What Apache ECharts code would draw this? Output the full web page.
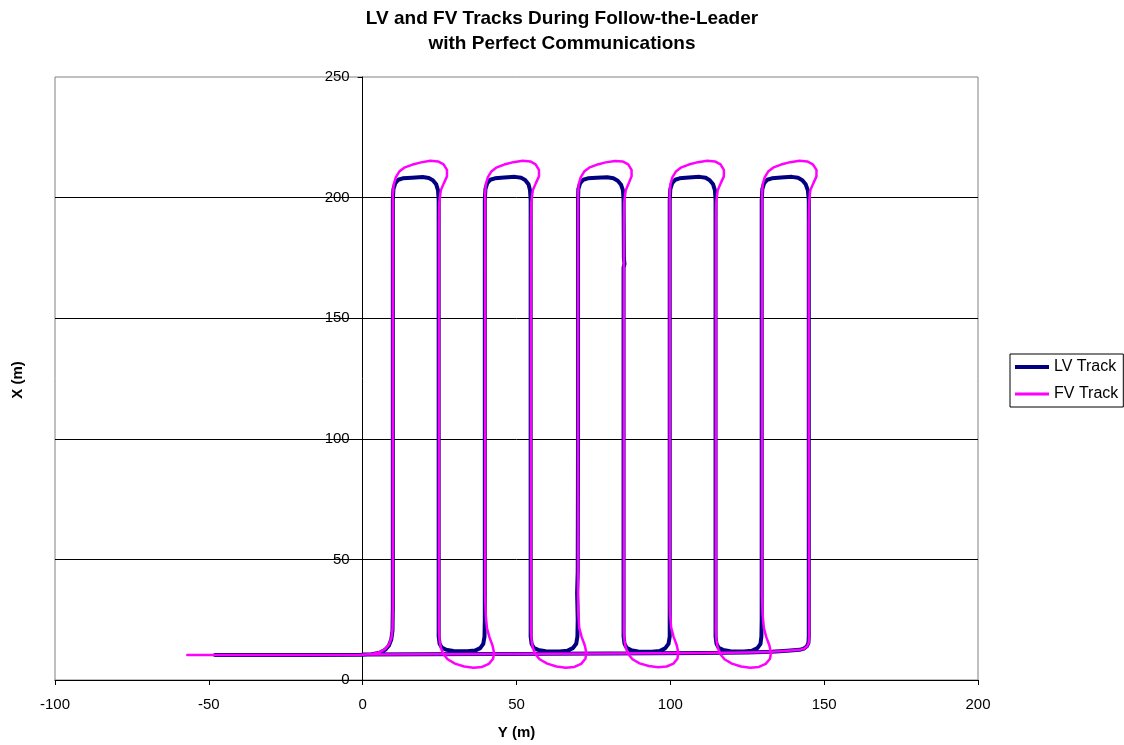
<!DOCTYPE html>
<html>
<head>
<meta charset="utf-8">
<script src="https://cdn.jsdelivr.net/npm/echarts@6/dist/echarts.min.js"></script>
<style>
html,body{margin:0;padding:0;background:#fff;}
#chart{width:1124px;height:745px;}
</style>
</head>
<body>
<div id="chart"></div>
<script>
// Chart text
const titleText = 'LV and FV Tracks During Follow-the-Leader\nwith Perfect Communications';
const xAxisTitle = 'Y (m)';
const yAxisTitle = 'X (m)';
const seriesNames = ['LV Track', 'FV Track'];

// Axis ranges / ticks
const xTicks = [-100, -50, 0, 50, 100, 150, 200];
const yTicks = [0, 50, 100, 150, 200, 250];

// LV track: [Y (m), X (m)] pairs
const lvTrack = [
  [-48,10.4],[-20,10.4],[0,10.5],[3,10.7],[5.5,11.3],[7.3,12.5],[8.5,14.2],[9.3,16.8],[9.7,20.5],[9.8,30],[9.8,100],[9.8,199],
  [10,203.5],[10.6,206],[11.6,207.4],[13,208],[16,208.2],[19.5,208.5],[21.5,208.1],[22.8,207.2],[23.9,205.5],[24.5,203],[24.7,199],
  [24.7,100],[24.7,18],
  [25,15],[25.7,13.5],[27,12.6],[29.5,12],[34,11.9],[36.5,12.2],[38.2,13.2],[39.2,15],[39.6,18],[39.7,25],
  [39.7,100],[39.7,199],
  [39.9,203.5],[40.5,206],[41.5,207.4],[43,208],[46,208.3],[49.5,208.6],[51.5,208.2],[52.8,207.3],[53.9,205.5],[54.4,203],[54.6,199],
  [54.6,100],[54.6,18],
  [54.9,15],[55.6,13.4],[57,12.5],[59.5,11.9],[64,11.8],[66.5,12.1],[68.3,13.2],[69.4,15],[69.8,18],[69.9,25],
  [69.7,36],[69.9,45],[70,100],[70,199],
  [70.1,203.5],[70.7,206],[71.7,207.4],[73.2,208],[76,208.2],[79.5,208.4],[81.5,208],[82.9,207],[84,205.3],[84.6,203],[84.8,199],
  [84.9,175],[85.1,172.5],[84.8,171],[84.8,100],[84.8,18],
  [85.1,15],[85.8,13.4],[87.2,12.4],[89.5,11.8],[94,11.7],[96.5,12],[98.3,13.1],[99.4,15],[99.8,18],[99.8,25],
  [99.8,100],[99.8,199],
  [100,203.5],[100.6,206],[101.6,207.4],[103,208],[106,208.3],[109.5,208.6],[111.5,208.2],[112.8,207.2],[113.9,205.5],[114.5,203],[114.7,199],
  [114.7,100],[114.7,18],
  [115,15],[115.7,13.4],[117.1,12.5],[119.5,11.9],[124,11.8],[126.5,12.1],[128.3,13.2],[129.3,15],[129.6,18],[129.7,25],
  [129.7,100],[129.7,199],
  [129.9,203.5],[130.5,206],[131.5,207.4],[133,208],[136,208.3],[139.5,208.6],[141.5,208.2],[142.9,207.2],[144,205.5],[144.7,203],[145,199],
  [145,100],[145,18],
  [144.9,15.5],[144.4,14],[143.4,13],[142,12.5],[138,12.1],[133,11.7],[125,11.4],[110,11.2],[80,11],[40,10.8],[0,10.6]
];

// FV track: [Y (m), X (m)] pairs
const fvTrack = [
  [-57,10.4],[-20,10.4],[0,10.5],[3,10.8],[5.5,11.5],[7.3,12.8],[8.5,14.6],[9.3,17.2],[9.7,21],[9.8,30],[9.8,100],[9.8,201],
  [10.1,205.5],[10.8,208.5],[11.9,210.8],[13.5,212.4],[16,213.6],[19,214.6],[22,215.3],[24.5,215],[26.3,213.8],[27.4,211.5],[27.4,208.8],[26.4,206],[25.4,203],[24.9,198],[24.8,190],
  [24.8,100],[24.8,20],
  [25,16.5],[25.4,13.5],[26.2,10.8],[27.6,8.6],[30,6.8],[33,5.6],[36,5.1],[38.8,5.4],[41,6.7],[42.4,8.8],[42.7,11.3],[42.2,14.3],[41.2,17.8],[40.4,21.5],[40,27],[39.8,35],
  [39.8,100],[39.8,201],
  [40,205.5],[40.7,208.5],[41.8,210.8],[43.4,212.4],[46,213.7],[49,214.7],[52,215.3],[54.5,215],[56.2,213.8],[57.3,211.5],[57.3,208.8],[56.3,206],[55.3,203],[54.8,198],[54.7,190],
  [54.7,100],[54.7,20],
  [54.9,16.5],[55.3,13.5],[56.1,10.8],[57.5,8.6],[60,6.8],[63,5.6],[66,5.1],[68.8,5.4],[71,6.7],[72.4,8.8],[72.7,11.3],[72.2,14.3],[71.2,17.8],[70.4,21.5],[70.1,27],[70,35],
  [70,100],[70,201],
  [70.2,205.5],[70.9,208.5],[72,210.8],[73.6,212.4],[76,213.6],[79,214.6],[82,215.2],[84.5,215],[86.3,213.8],[87.4,211.5],[87.4,208.8],[86.5,206],[85.5,203],[85,198],[84.9,190],
  [84.9,100],[84.9,20],
  [85.1,16.5],[85.5,13.5],[86.3,10.8],[87.7,8.6],[90,6.9],[93,5.8],[96,5.3],[98.8,5.6],[101,6.8],[102.3,8.8],[102.6,11.3],[102.1,14.3],[101.1,17.8],[100.3,21.5],[99.9,27],[99.8,35],
  [99.8,100],[99.8,201],
  [100,205.5],[100.7,208.5],[101.8,210.8],[103.4,212.4],[106,213.7],[109,214.7],[112,215.3],[114.5,215],[116.3,213.8],[117.4,211.5],[117.4,208.8],[116.4,206],[115.4,203],[114.9,198],[114.8,190],
  [114.8,100],[114.8,20],
  [115,16.5],[115.4,13.5],[116.2,10.8],[117.6,8.6],[120,6.8],[123,5.6],[126,5.1],[128.8,5.4],[131,6.7],[132.4,8.8],[132.7,11.3],[132.2,14.3],[131.2,17.8],[130.4,21.5],[130,27],[129.8,35],
  [129.8,100],[129.8,201],
  [130,205.5],[130.7,208.5],[131.8,210.8],[133.4,212.4],[136,213.7],[139,214.7],[142,215.3],[144.5,215],[146.3,213.8],[147.5,211.5],[147.5,208.8],[146.5,206],[145.5,203],[145.1,198],[145,190],
  [145,100],[145.1,18],
  [145,15.5],[144.5,14],[143.5,13],[142,12.5],[138,12.1],[133,11.7],[125,11.4],[110,11.2],[80,11],[40,10.8],[0,10.6]
];

const FONT = 'Arial, "Liberation Sans", sans-serif';
const GRID = {left: 55, right: 146, top: 77, bottom: 65};
const plotW = 1124 - GRID.left - GRID.right;
// y axis sits on x = 0 of the horizontal axis
const yAxisOffset = -plotW * (0 - xTicks[0]) / (xTicks[xTicks.length - 1] - xTicks[0]);

const chart = echarts.init(document.getElementById('chart'), null, {renderer: 'canvas'});
chart.setOption({
  animation: false,
  backgroundColor: '#ffffff',
  title: {
    text: titleText,
    left: 'center',
    top: 1,
    textStyle: {fontFamily: FONT, fontSize: 19, fontWeight: 'bold', color: '#000', lineHeight: 25}
  },
  grid: {
    left: GRID.left, right: GRID.right, top: GRID.top, bottom: GRID.bottom,
    outerBoundsMode: 'none', containLabel: false,
    show: true, borderColor: '#808080', borderWidth: 1, backgroundColor: 'transparent'
  },
  legend: {
    orient: 'vertical',
    left: 1010, top: 354,
    padding: [5, 5, 5, 5],
    itemWidth: 34, itemHeight: 14, itemGap: 11, itemTextGap: 2,
    symbolKeepAspect: true,
    borderColor: '#000', borderWidth: 1,
    textStyle: {fontFamily: FONT, fontSize: 16, color: '#000'},
    data: [
      {name: seriesNames[0], icon: 'path://M0,0L34,0L34,4L0,4Z'},
      {name: seriesNames[1], icon: 'path://M0,0L34,0L34,3L0,3Z'}
    ]
  },
  xAxis: {
    type: 'value',
    min: xTicks[0], max: xTicks[xTicks.length - 1], interval: 50,
    name: xAxisTitle, nameLocation: 'middle', nameGap: 45,
    nameTextStyle: {fontFamily: FONT, fontSize: 15, fontWeight: 'bold', color: '#000'},
    axisLine: {onZero: false, lineStyle: {color: '#000', width: 1}},
    axisTick: {show: true, inside: false, length: 5, lineStyle: {color: '#000'}},
    axisLabel: {fontFamily: FONT, fontSize: 15, color: '#000', margin: 17},
    splitLine: {show: false}
  },
  yAxis: {
    type: 'value',
    position: 'left',
    offset: yAxisOffset,
    min: yTicks[0], max: yTicks[yTicks.length - 1], interval: 50,
    axisLine: {show: true, onZero: false, lineStyle: {color: '#000', width: 1}},
    axisTick: {show: true, inside: false, length: 5, lineStyle: {color: '#000'}},
    axisLabel: {fontFamily: FONT, fontSize: 15, color: '#000', margin: 13},
    splitLine: {show: true, showMinLine: false, showMaxLine: false, lineStyle: {color: '#000', width: 1}}
  },
  graphic: [{
    type: 'text',
    x: 18, y: 380,
    rotation: Math.PI / 2,
    style: {text: yAxisTitle, font: 'bold 15px ' + FONT, fill: '#000', align: 'center', verticalAlign: 'middle'}
  }],
  series: [
    {
      name: seriesNames[0], type: 'line', data: lvTrack,
      showSymbol: false, symbol: 'none', smooth: false,
      color: '#000080',
      lineStyle: {color: '#000080', width: 4, join: 'round', cap: 'round'},
      z: 2
    },
    {
      name: seriesNames[1], type: 'line', data: fvTrack,
      showSymbol: false, symbol: 'none', smooth: false,
      color: '#ff00ff',
      lineStyle: {color: '#ff00ff', width: 2.5, join: 'round', cap: 'round'},
      z: 3
    }
  ]
});
</script>
</body>
</html>
